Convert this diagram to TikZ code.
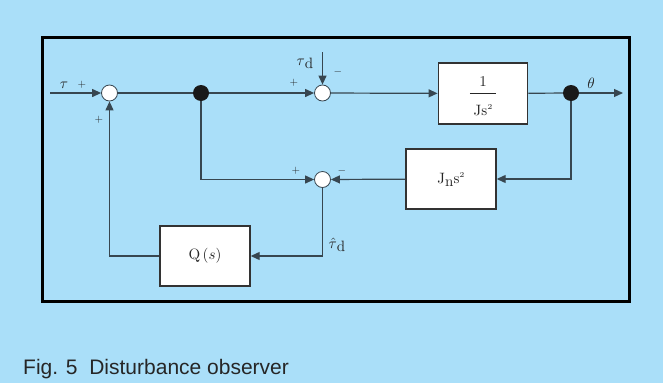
\documentclass[tikz,border=0pt]{standalone}
\usepackage{graphicx}
\usepackage{fontspec}
\newfontfamily\capfont{Liberation Sans}
\usetikzlibrary{arrows.meta}
\definecolor{bg}{RGB}{170,223,249}
\definecolor{ln}{RGB}{55,70,80}
\newcommand{\bigtxt}[1]{\scalebox{1.5}{\fontsize{10}{12}\selectfont #1}}
\begin{document}
\begin{tikzpicture}[x=1pt,y=-1pt,
  wire/.style={draw=ln,line width=1.2pt},
  arr/.style={wire,-{Triangle[length=9pt,width=8pt]}},
  sumnode/.style={circle,draw=ln,fill=white,line width=0.8pt,minimum size=16pt,inner sep=0pt},
  dotnode/.style={circle,fill=black!90,minimum size=16pt,inner sep=0pt},
  blk/.style={draw=black!80,fill=white,line width=1.4pt,inner sep=0pt,text=black!85},
  lab/.style={inner sep=0pt,text=black!85},
  sgn/.style={font=\fontsize{11}{12}\selectfont,inner sep=0pt,text=black!85}]
\fill[bg] (0,0) rectangle (663,383);
\draw[line width=3pt] (42.5,37.5) rectangle (629.5,301.5);
% blocks
\node[blk,minimum width=89.5pt,minimum height=61pt] (b1) at (483,93.5)
  {\bigtxt{\begin{tabular}{@{}c@{}}\rule{0pt}{14pt}1\\[-7.5pt]\rule{17.5pt}{0.6pt}\\[3pt]Js\raisebox{4pt}{\fontsize{5}{5}\selectfont 2}\end{tabular}}};
\node[blk,minimum width=90pt,minimum height=60pt] (bJ) at (451,179)
  {\bigtxt{J\raisebox{-2pt}{n}s\raisebox{4pt}{\fontsize{5}{5}\selectfont 2}}};
\node[blk,minimum width=90pt,minimum height=60pt] (bQ) at (205,256)
  {\bigtxt{$\mathrm{Q}\,(s)$}};
% junctions
\node[sumnode] (s1) at (109.5,93) {};
\node[dotnode] (d1) at (201,93) {};
\node[sumnode] (s2) at (322.5,93) {};
\node[dotnode] (d2) at (571,93) {};
\node[sumnode] (s3) at (322.5,179.5) {};
\coordinate (in) at (50,93);
\coordinate (out) at (623,93);
\coordinate (td) at (322.5,52);
% connectors
\draw[arr] (in) -- (s1);
\draw[wire] (s1) -- (d1);
\draw[arr] (d1) -- (s2);
\draw[arr] (s2) -- (b1);
\draw[wire] (b1) -- (d2);
\draw[arr] (d2) -- (out);
\draw[arr] (td) -- (s2);
\draw[arr] (d2) |- (bJ);
\draw[arr] (bJ) -- (s3);
\draw[arr] (d1) |- (s3);
\draw[arr] (s3) |- (bQ);
\draw[arr] (bQ.west) -| (s1);
% labels
\node[lab] (ltau) at (64,85) {\bigtxt{$\tau$}};
\node[sgn] (p1) at (82,85) {$+$};
\node[sgn] (p2) at (99,120) {$+$};
\node[lab] (ltd) at (305,63) {\bigtxt{$\tau$\raisebox{-2pt}{d}}};
\node[sgn] (m1) at (338,72) {$-$};
\node[sgn] (p3) at (294,83) {$+$};
\node[lab] (lth) at (591,83) {\bigtxt{$\theta$}};
\node[sgn] (p4) at (296,171) {$+$};
\node[sgn] (m2) at (342,171) {$-$};
\node[lab] (lhat) at (337,245) {\bigtxt{$\hat{\tau}$\raisebox{-2pt}{d}}};
\node[anchor=base west,inner sep=0pt,font=\capfont\fontsize{21}{25}\selectfont,text=black!85] (cap) at (23,374) {Fig. 5\ \ Disturbance observer};
\end{tikzpicture}
\end{document}
